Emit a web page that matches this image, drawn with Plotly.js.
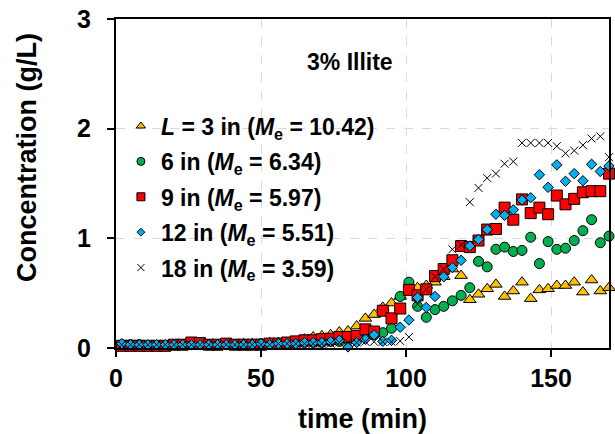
<!DOCTYPE html>
<html>
<head>
<meta charset="utf-8">
<script src="https://cdn.plot.ly/plotly-3.0.1.min.js"></script>
<style>html,body{margin:0;padding:0;background:#fff;}#chart{width:615px;height:434px;}</style>
</head>
<body>
<div id="chart"></div>
<script>
// sampling times (min)
const time = [2,5,8,11,14,17,20,23,26,29,32,35,38,41,44,47,50,53,56,59,62,65,68,71,74,77,80,83,86,89,92,95,98,101,104,107,110,113,116,119,122,125,128,131,134,137,140,143,146,149,152,155,158,161,164,167,170];

// concentrations (g/L)
const conc3in = [0.03,0.03,0.02,0.02,0.02,0.02,0.02,0.03,0.03,0.03,0.03,0.03,0.03,0.03,0.04,0.04,0.04,0.05,0.05,0.05,0.06,0.08,0.10,0.11,0.12,0.145,0.155,0.20,0.27,0.305,0.37,0.41,0.47,0.52,0.55,0.57,0.60,0.65,0.72,0.66,0.44,0.49,0.54,0.58,0.47,0.52,0.60,0.45,0.53,0.54,0.57,0.57,0.60,0.51,0.62,0.52,0.55];
const conc6in = [0.03,0.03,0.03,0.02,0.02,0.02,0.03,0.03,0.03,0.03,0.03,0.03,0.03,0.03,0.03,0.03,0.04,0.04,0.04,0.04,0.05,0.05,0.05,0.05,0.06,0.06,0.07,0.08,0.10,0.12,0.14,0.18,0.47,0.60,0.38,0.28,0.35,0.38,0.43,0.48,0.55,0.79,0.74,0.90,0.92,0.88,0.89,1.01,0.77,0.97,0.90,0.91,0.98,1.07,1.17,0.96,1.02];
const conc9in = [0.02,0.02,0.02,0.02,0.02,0.02,0.03,0.03,0.05,0.045,0.03,0.03,0.04,0.03,0.03,0.03,0.03,0.04,0.04,0.05,0.06,0.07,0.07,0.08,0.085,0.10,0.10,0.11,0.17,0.15,0.34,0.27,0.36,0.53,0.48,0.535,0.656,0.72,0.80,0.93,0.92,0.98,1.08,1.085,1.28,1.17,1.355,1.23,1.28,1.22,1.39,1.31,1.36,1.42,1.43,1.43,1.59];
const conc12in = [0.04,0.03,0.03,0.03,0.03,0.03,0.03,0.03,0.03,0.03,0.03,0.03,0.03,0.03,0.03,0.03,0.04,0.03,0.04,0.04,0.04,0.05,0.05,0.05,0.06,0.07,0.01,0.05,0.08,0.12,0.06,0.07,0.19,0.255,0.46,0.37,0.47,0.65,0.735,0.80,0.93,0.99,1.08,1.22,1.21,1.26,1.35,1.37,1.58,1.465,1.67,1.52,1.59,1.525,1.675,1.61,1.66];
const conc18in = [0.03,0.03,0.03,0.03,0.03,0.03,0.03,0.03,0.03,0.03,0.03,0.03,0.03,0.03,0.03,0.03,0.03,0.03,0.04,0.04,0.04,0.04,0.04,0.04,0.04,0.05,0.05,0.05,0.057,0.057,0.057,0.057,0.064,0.10,0.40,0.535,0.65,0.72,0.90,0.94,1.33,1.46,1.55,1.59,1.68,1.70,1.87,1.87,1.87,1.87,1.84,1.775,1.80,1.85,1.91,1.93,1.74];

const seriesNames = [
  '<i>L</i> = 3 in (<i>M</i><sub>e</sub> = 10.42)',
  '6 in (<i>M</i><sub>e</sub> = 6.34)',
  '9 in (<i>M</i><sub>e</sub> = 5.97)',
  '12 in (<i>M</i><sub>e</sub> = 5.51)',
  '18 in (<i>M</i><sub>e</sub> = 3.59)'
];
const seriesValues = [conc3in, conc6in, conc9in, conc12in, conc18in];
const xTicks = [0, 50, 100, 150];
const yTicks = [0, 1, 2, 3];
const chartTitle = '3% Illite';
const xTitle = 'time (min)';
const yTitle = 'Concentration (g/L)';

const symbols = ['triangle-up', 'circle', 'square', 'diamond', 'x-thin'];
const colors = ['#FFC000', '#00B050', '#FF0000', '#00B0F0', '#000000'];
const plotSizes = [11, 10, 11, 8, 8];
const legendSizes = [8, 8, 8, 6, 7];

const FONT = 'Arial, "Liberation Sans", sans-serif';

// data traces (no legend entries)
const traces = seriesValues.map((vals, i) => ({
  type: 'scatter',
  mode: 'markers',
  x: time,
  y: vals,
  name: seriesNames[i],
  showlegend: false,
  cliponaxis: false,
  marker: {symbol: symbols[i], color: colors[i], size: plotSizes[i], line: {color: '#000', width: 1}}
}));

// legend-only entries with smaller symbols
seriesNames.forEach((nm, i) => {
  traces.push({
    type: 'scatter', mode: 'markers', x: [null], y: [null],
    name: nm, legendgroup: 'g' + i, showlegend: true,
    marker: {symbol: symbols[i], color: colors[i], size: legendSizes[i], line: {color: '#000', width: 1}}
  });
});

const axisCommon = {
  showline: true, linecolor: '#000', linewidth: 2, mirror: true,
  ticks: 'outside', ticklen: 7, tickwidth: 2, tickcolor: '#000',
  showgrid: true, gridcolor: '#d9d9d9', griddash: 'dash', gridwidth: 1,
  zeroline: false,
  tickfont: {family: FONT, size: 25, color: '#000', weight: 'bold'}
};

const layout = {
  width: 615, height: 434,
  margin: {l: 116, r: 6, t: 19, b: 86},
  paper_bgcolor: '#fff', plot_bgcolor: '#fff',
  showlegend: true,
  legend: {
    x: 0.01, y: 0.74, xanchor: 'left', yanchor: 'top',
    bgcolor: 'rgba(0,0,0,0)',
    traceorder: 'grouped', tracegroupgap: 2.5,
    font: {family: FONT, size: 23, color: '#000', weight: 'bold'}
  },
  xaxis: Object.assign({}, axisCommon, {
    range: [0, 170], tickvals: xTicks,
    title: {text: xTitle, font: {family: FONT, size: 27, color: '#000', weight: 'bold'}, standoff: 20}
  }),
  yaxis: Object.assign({}, axisCommon, {
    range: [0, 3], tickvals: yTicks, ticklabelstandoff: 11
  }),
  annotations: [
    {
      text: chartTitle, xref: 'paper', yref: 'paper', x: 0.475, y: 0.87,
      xanchor: 'center', yanchor: 'middle', showarrow: false,
      font: {family: FONT, size: 23, color: '#000', weight: 'bold'}
    },
    {
      text: yTitle, xref: 'paper', yref: 'paper',
      x: -0.181, y: 0.58, xanchor: 'center', yanchor: 'middle',
      textangle: -90, showarrow: false,
      font: {family: FONT, size: 27, color: '#000', weight: 'bold'}
    }
  ]
};

Plotly.newPlot('chart', traces, layout, {displayModeBar: false, staticPlot: true});
</script>
</body>
</html>
